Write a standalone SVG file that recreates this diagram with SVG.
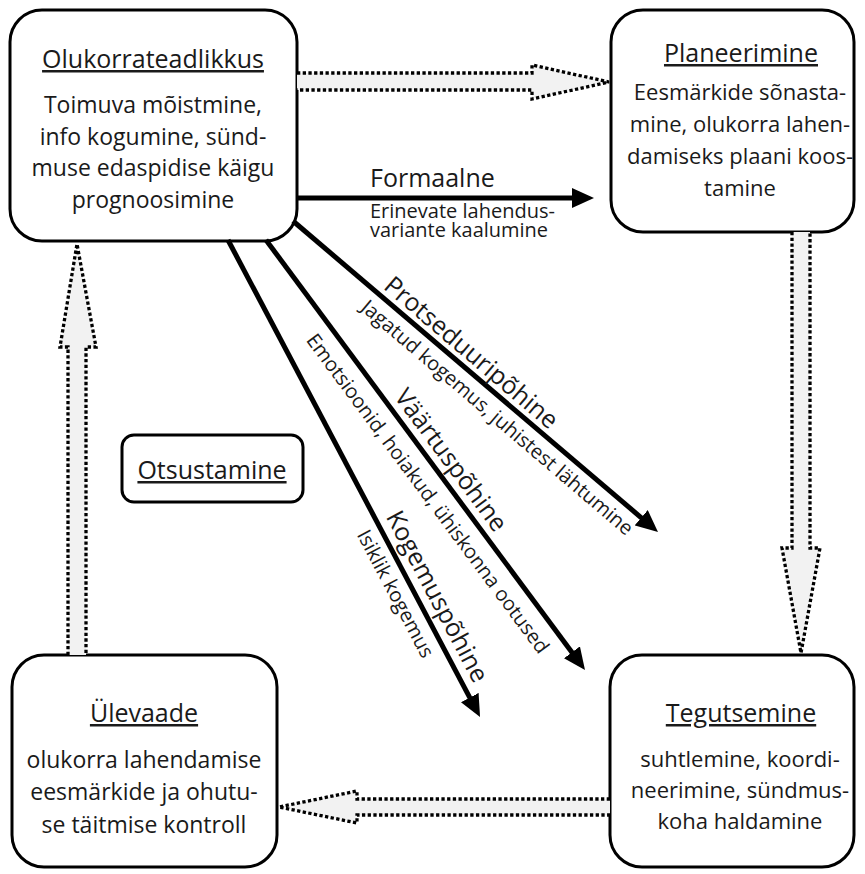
<svg xmlns="http://www.w3.org/2000/svg" width="865" height="874" viewBox="0 0 865 874">
<style>
.box{fill:#fff;stroke:#000;stroke-width:3}
.t{font-family:"Open Sans","Noto Sans",sans-serif;fill:#1a1a1a}
.title{font-size:25px;text-anchor:middle;text-decoration:underline}
.body{font-size:23px;text-anchor:middle}
.bodyr{font-size:22px;text-anchor:middle}
.lab{font-size:25px}
.sub{font-size:20px}
.conn{stroke:#000;stroke-width:5;fill:none}
.blk{fill:#f2f2f2;stroke:#000;stroke-width:3.3;stroke-dasharray:3.3 2.4}
</style>
<defs>
<marker id="ah" markerUnits="userSpaceOnUse" markerWidth="22" markerHeight="20" viewBox="0 0 22 20" refX="4" refY="10" orient="auto">
<path d="M0,0 L22,10 L0,20 Z" fill="#000"/>
</marker>
</defs>
<g id="node-olukorrateadlikkus">
<rect class="box" x="10" y="10" width="287" height="231" rx="32"/>
<text class="t title" x="153" y="68">Olukorrateadlikkus</text>
<text class="t body" x="153" y="113">Toimuva mõistmine,</text>
<text class="t body" x="153" y="145">info kogumine, sünd-</text>
<text class="t body" x="153" y="176">muse edaspidise käigu</text>
<text class="t body" x="153" y="208">prognoosimine</text>
</g>
<g id="node-planeerimine">
<rect class="box" x="611" y="10" width="243" height="222" rx="32"/>
<text class="t title" x="741" y="62">Planeerimine</text>
<text class="t bodyr" x="740" y="100">Eesmärkide sõnasta-</text>
<text class="t bodyr" x="740" y="132">mine, olukorra lahen-</text>
<text class="t bodyr" x="740" y="164">damiseks plaani koos-</text>
<text class="t bodyr" x="740" y="196">tamine</text>
</g>
<g id="node-ulevaade">
<rect class="box" x="12" y="655" width="265" height="212" rx="32"/>
<text class="t title" x="144" y="722">Ülevaade</text>
<text class="t body" x="144" y="768">olukorra lahendamise</text>
<text class="t body" x="144" y="800">eesmärkide ja ohutu-</text>
<text class="t body" x="144" y="833">se täitmise kontroll</text>
</g>
<g id="node-tegutsemine">
<rect class="box" x="610" y="655" width="244" height="212" rx="32"/>
<text class="t title" x="741" y="722">Tegutsemine</text>
<text class="t bodyr" x="740" y="767">suhtlemine, koordi-</text>
<text class="t bodyr" x="740" y="798">neerimine, sündmus-</text>
<text class="t bodyr" x="740" y="829">koha haldamine</text>
</g>
<g id="node-otsustamine">
<rect class="box" x="122" y="435" width="181" height="67" rx="12"/>
<text class="t title" x="212" y="479">Otsustamine</text>
</g>
<g id="connectors">
<path class="blk" d="M297,73 L532,73 L532,65 L609,82 L532,99 L532,90 L297,90"/>
<path class="blk" d="M792,232 L792,548 L782,548 L801,653 L820,548 L810,548 L810,232"/>
<path class="blk" d="M610,799 L357,799 L357,791 L279,807 L357,823 L357,815 L610,815"/>
<path class="blk" d="M68,655 L68,347 L60,347 L77,244 L96,347 L86,347 L86,655"/>
<g id="conn-formaalne">
<line class="conn" x1="297" y1="198" x2="576" y2="198" marker-end="url(#ah)"/>
<text class="t lab" x="370" y="187">Formaalne</text>
<text class="t sub" x="370" y="218" textLength="185" lengthAdjust="spacingAndGlyphs">Erinevate lahendus-</text>
<text class="t sub" x="370" y="237" textLength="178" lengthAdjust="spacingAndGlyphs">variante kaalumine</text>
</g>
<g id="conn-protseduur" transform="translate(293,221) rotate(40.43)">
<line class="conn" x1="0" y1="0" x2="461.5" y2="0" marker-end="url(#ah)"/>
<text class="t lab" x="221" y="-7" text-anchor="middle">Protseduuripõhine</text>
<text class="t sub" x="283" y="24" text-anchor="middle">Jagatud kogemus, juhistest lähtumine</text>
</g>
<g id="conn-vaartus" transform="translate(266,240) rotate(53.43)">
<line class="conn" x1="0" y1="0" x2="517.4" y2="0" marker-end="url(#ah)"/>
<text class="t lab" x="287" y="-9" text-anchor="middle">Väärtuspõhine</text>
<text class="t sub" x="300" y="28" text-anchor="middle">Emotsioonid, hoiakud, ühiskonna ootused</text>
</g>
<g id="conn-kogemus" transform="translate(228,240) rotate(62.15)">
<line class="conn" x1="0" y1="0" x2="521.5" y2="0" marker-end="url(#ah)"/>
<text class="t lab" x="413" y="-10" text-anchor="middle">Kogemuspõhine</text>
<text class="t sub" x="391" y="24" text-anchor="middle">Isiklik kogemus</text>
</g>
</g>
</svg>
